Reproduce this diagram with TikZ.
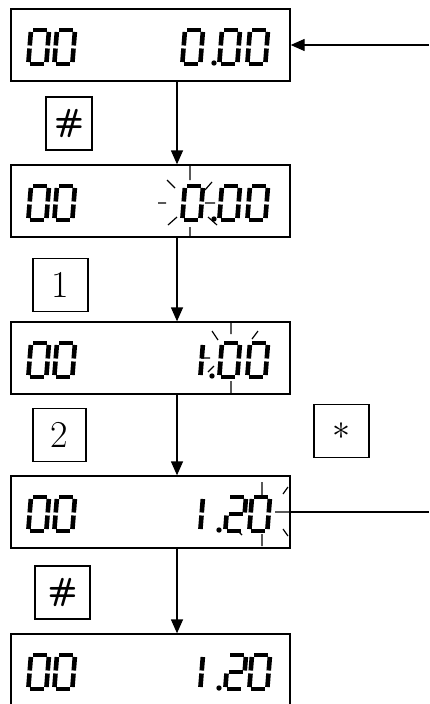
\RequirePackage{fix-cm}
\documentclass[tikz,border=0pt]{standalone}
\usepackage{tikz}
\usetikzlibrary{arrows.meta}

\tikzset{
	lcdseg/.style={line width=4.6pt},
	pics/lcd/.style={code={
		\begin{scope}[xslant=0.08]
			\path (2,0) coordinate (seg-a-1) (16,0) coordinate (seg-a-2)
				(18,2) coordinate (seg-b-1) (18,15.5) coordinate (seg-b-2)
				(18,18.5) coordinate (seg-c-1) (18,32) coordinate (seg-c-2)
				(2,34) coordinate (seg-d-1) (16,34) coordinate (seg-d-2)
				(0,18.5) coordinate (seg-e-1) (0,32) coordinate (seg-e-2)
				(0,2) coordinate (seg-f-1) (0,15.5) coordinate (seg-f-2)
				(2,17) coordinate (seg-g-1) (16,17) coordinate (seg-g-2);
			\foreach \s in {#1} {\draw[lcdseg] (seg-\s-1) -- (seg-\s-2);}
		\end{scope}
	}}
}

\begin{document}
\begin{tikzpicture}[x=1pt, y=-1pt,
	display/.style={draw, line width=1.3pt, minimum width=279pt, minimum height=72pt, inner sep=0pt},
	keybox/.style={draw, line width=1.2pt, minimum height=53pt, inner sep=0pt, font=\fontsize{38}{38}\selectfont},
	hashkey/.style={keybox, font=\fontsize{32}{32}\selectfont\sffamily\bfseries},
	flow/.style={line width=1.3pt, -{Triangle[length=14pt, width=12pt]}},
	blink/.style={line width=1.2pt}]
	\useasboundingbox (0,0) rectangle (429,704);

	\node[display] (disp1) at (150.5,45) {};
	\node[display] (disp2) at (150.5,201) {};
	\node[display] (disp3) at (150.5,358) {};
	\node[display] (disp4) at (150.5,512) {};
	\node[display] (disp5) at (150.5,670) {};

	\node[hashkey, minimum width=46pt] (hash1) at (69,123.5) {\#};
	\node[keybox, minimum width=55pt] (one) at (60.5,285) {1};
	\node[keybox, minimum width=53pt] (two) at (59.5,435) {2};
	\node[keybox, minimum width=55pt, font=\fontsize{36}{36}\selectfont] (star) at (341.5,431) {$\ast$};
	\node[hashkey, minimum width=55pt] (hash2) at (62.5,592.5) {\#};

	\foreach \t in {30,186,343,497,655} {
		\pic at (31,\t) {lcd={a,b,c,d,e,f}};
		\pic at (57,\t) {lcd={a,b,c,d,e,f}};
	}

	\pic at (185,30) {lcd={a,b,c,d,e,f}};
	\fill (214,63) circle (2.7pt);
	\pic at (222,30) {lcd={a,b,c,d,e,f}};
	\pic at (250,30) {lcd={a,b,c,d,e,f}};

	\pic at (185,186) {lcd={a,b,c,d,e,f}};
	\fill (214,219) circle (2.7pt);
	\pic at (222,186) {lcd={a,b,c,d,e,f}};
	\pic at (250,186) {lcd={a,b,c,d,e,f}};
	\draw[blink] (190,165) -- (190,180) (167,180) -- (175,188) (212,182) -- (205,190)
		(158,203) -- (166,203) (205,203) -- (215,203)
		(168,225) -- (177,217) (208,217) -- (217,225) (190,227) -- (190,237);

	\pic at (185,343) {lcd={b,c}};
	\fill (212,376) circle (2.7pt);
	\pic at (222,343) {lcd={a,b,c,d,e,f}};
	\pic at (250,343) {lcd={a,b,c,d,e,f}};
	\draw[blink] (231,322) -- (231,334) (212,331) -- (218,340) (258,331) -- (252,339)
		(201,358) -- (210,358) (208,372) -- (214,366) (231,381) -- (231,393);

	\pic at (185,497) {lcd={b,c}};
	\fill (219,530) circle (2.7pt);
	\pic at (228,497) {lcd={a,b,g,e,d}};
	\pic at (252,497) {lcd={a,b,c,d,e,f}};
	\draw[blink] (262,482) -- (262,495) (288,487) -- (283,494) (275,512) -- (290,512)
		(283,529) -- (288,536) (237,530) -- (242,535) (262,534) -- (262,546);

	\pic at (185,655) {lcd={b,c}};
	\fill (219,688) circle (2.7pt);
	\pic at (228,655) {lcd={a,b,g,e,d}};
	\pic at (252,655) {lcd={a,b,c,d,e,f}};

	\coordinate (spine) at (177,0);
	\coordinate (ret1) at (429,45);
	\coordinate (ret4) at (429,512);
	\draw[flow] (disp1.south -| spine) -- (disp2.north -| spine);
	\draw[flow] (disp2.south -| spine) -- (disp3.north -| spine);
	\draw[flow] (disp3.south -| spine) -- (disp4.north -| spine);
	\draw[flow] (disp4.south -| spine) -- (disp5.north -| spine);
	\draw[flow] (ret1) -- (disp1.east);
	\draw[line width=1.3pt] (disp4.east) -- (ret4);
\end{tikzpicture}
\end{document}
